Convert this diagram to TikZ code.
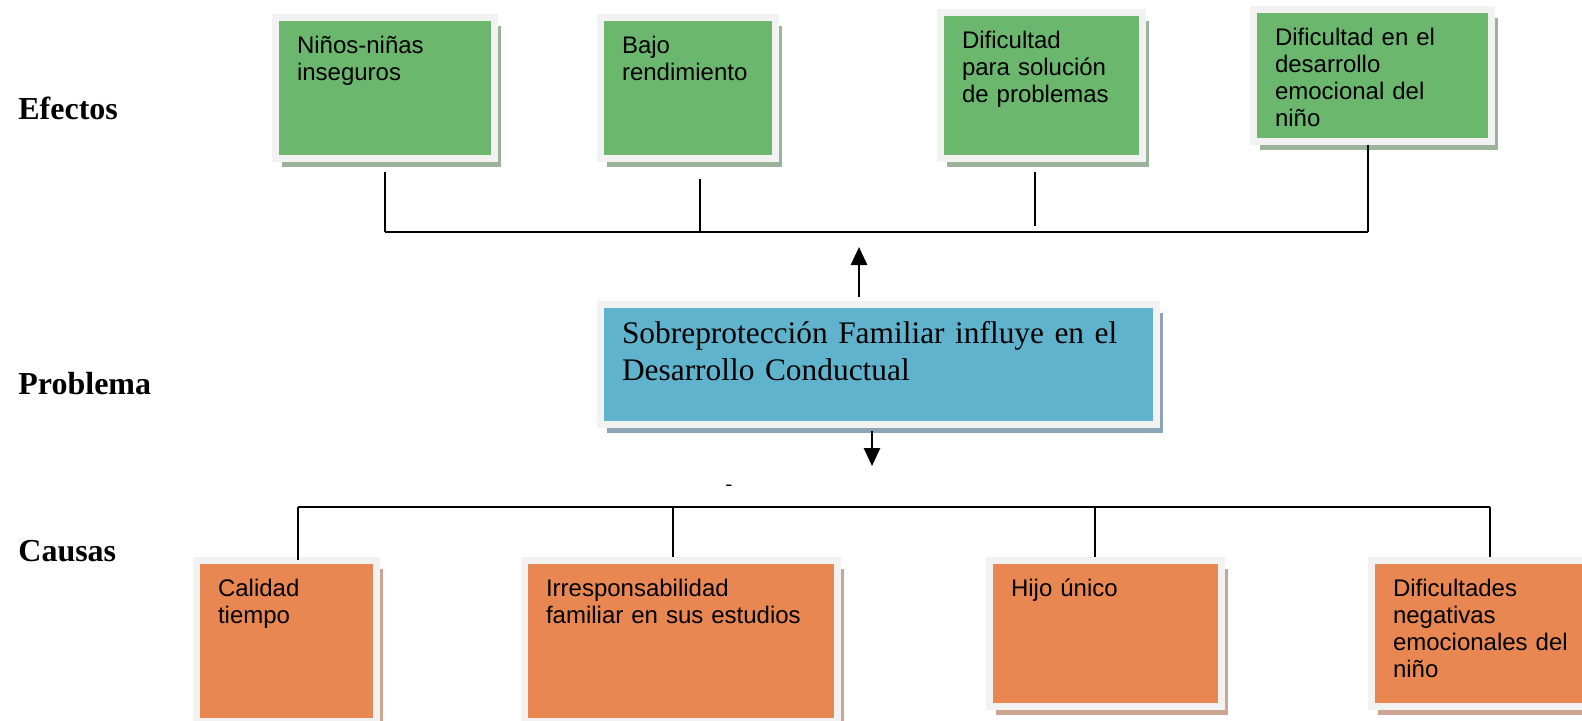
\documentclass[tikz,border=0pt]{standalone}
\usepackage{fontspec}
\setmainfont{Liberation Serif}
\newfontfamily\arialfont{Liberation Sans}
\usepackage{tikz}
\usetikzlibrary{arrows.meta,shadows}
\definecolor{efgreen}{RGB}{108,183,110}
\definecolor{efshade}{RGB}{155,178,155}
\definecolor{pbblue}{RGB}{96,179,204}
\definecolor{pbshade}{RGB}{140,165,180}
\definecolor{caorange}{RGB}{232,135,82}
\definecolor{cashade}{RGB}{205,165,145}
\definecolor{boxframe}{RGB}{242,242,242}
\tikzset{
  boxbase/.style={ draw=boxframe, line width=3.5pt, anchor=north west, inner xsep=11pt, inner ysep=0pt, align=left, font=\arialfont\fontsize{12pt}{13.5pt}\selectfont }
}
\tikzset{
  efbox/.style 2 args={ boxbase, fill=efgreen, drop shadow={fill=efshade, opacity=1, shadow xshift=3.5pt, shadow yshift=-4.5pt}, text width=#1, text height=18.25pt, text depth=#2 }
}
\tikzset{
  cabox/.style 2 args={ boxbase, fill=caorange, drop shadow={fill=cashade, opacity=1, shadow xshift=3.5pt, shadow yshift=-4.5pt}, text width=#1, text height=18.25pt, text depth=#2 }
}
\tikzset{
  pbbox/.style={ boxbase, fill=pbblue, drop shadow={fill=pbshade, opacity=1, shadow xshift=3.5pt, shadow yshift=-4.5pt}, text width=256pt, text height=19.75pt, text depth=40.25pt, font=\fontsize{15.7pt}{18.5pt}\selectfont }
}
\tikzset{
  side/.style={ anchor=west, inner sep=0pt, font=\bfseries\fontsize{16pt}{18pt}\selectfont }
}
\tikzset{
  link/.style={ draw=black, line width=1pt },
  arr/.style={ link, line width=1.4pt, -{Triangle[width=8pt,length=9pt]} }
}

\begin{document}
\begin{tikzpicture}[x=0.5pt, y=-0.5pt]
      \useasboundingbox (0,0) rectangle (1582,720);
      \node[side] (efe) at (18,108) {Efectos};
      \node[side] (pro) at (18,383.5) {Problema};
      \node[side] (cau) at (18,551) {Causas};
      \node[efbox={87.5pt}{52.25pt}] (nin) at (271.5,13.5) {Niños-niñas\\inseguros};
      \node[efbox={65.5pt}{52.25pt}] (bajo) at (596.5,13.5) {Bajo\\rendimiento};
      \node[efbox={79pt}{54.75pt}] (sol) at (936.5,8.5) {Dificultad\\para solución\\de problemas};
      \node[efbox={97pt}{47.75pt}] (emo) at (1249.5,5.5) {Dificultad en el\\desarrollo\\emocional del\\niño};
      \node[pbbox] (prob) at (596.5,300.5) {Sobreprotección Familiar influye en el\\Desarrollo Conductual};
      \node[cabox={68pt}{62.25pt}] (cal) at (192.5,556.5) {Calidad\\tiempo};
      \node[cabox={134.5pt}{62.25pt}] (irr) at (520.5,556.5) {Irresponsabilidad\\familiar en sus estudios};
      \node[cabox={94pt}{54.75pt}] (hijo) at (985.5,556.5) {Hijo único};
      \node[cabox={98pt}{54.75pt}] (neg) at (1367.5,556.5) {Dificultades\\negativas\\emocionales del\\niño};
      \node[inner sep=0pt, font=\fontsize{10pt}{12pt}\selectfont] (mk) at (729,488) {-};
      \coordinate (eb1) at (385,232);
      \coordinate (eb2) at (700,232);
      \coordinate (eb3) at (1035,232);
      \coordinate (eb4) at (1368,232);
      \draw[link] (eb1) -- (eb4);
      \draw[link, shorten <=5pt] (nin.south -| eb1) -- (eb1);
      \draw[link, shorten <=8.75pt] (bajo.south -| eb2) -- (eb2);
      \draw[link, shorten <=5.25pt, shorten >=3pt] (sol.south -| eb3) -- (eb3);
      \draw[link] (emo.south -| eb4) -- (eb4);
      \coordinate (up) at (859,247);
      \coordinate (dn) at (872,466);
      \draw[arr, shorten <=1.75pt] (prob.north -| up) -- (up);
      \draw[arr, shorten <=1.75pt] (prob.south -| dn) -- (dn);
      \coordinate (cb1) at (298,506.5);
      \coordinate (cb2) at (673,506.5);
      \coordinate (cb3) at (1095,506.5);
      \coordinate (cb4) at (1490,506.5);
      \draw[link] (cb1) -- (cb4);
      \draw[link, shorten >=-1.75pt] (cb1) -- (cal.north -| cb1);
      \draw[link] (cb2) -- (irr.north -| cb2);
      \draw[link] (cb3) -- (hijo.north -| cb3);
      \draw[link] (cb4) -- (neg.north -| cb4);
\end{tikzpicture}
\end{document}
